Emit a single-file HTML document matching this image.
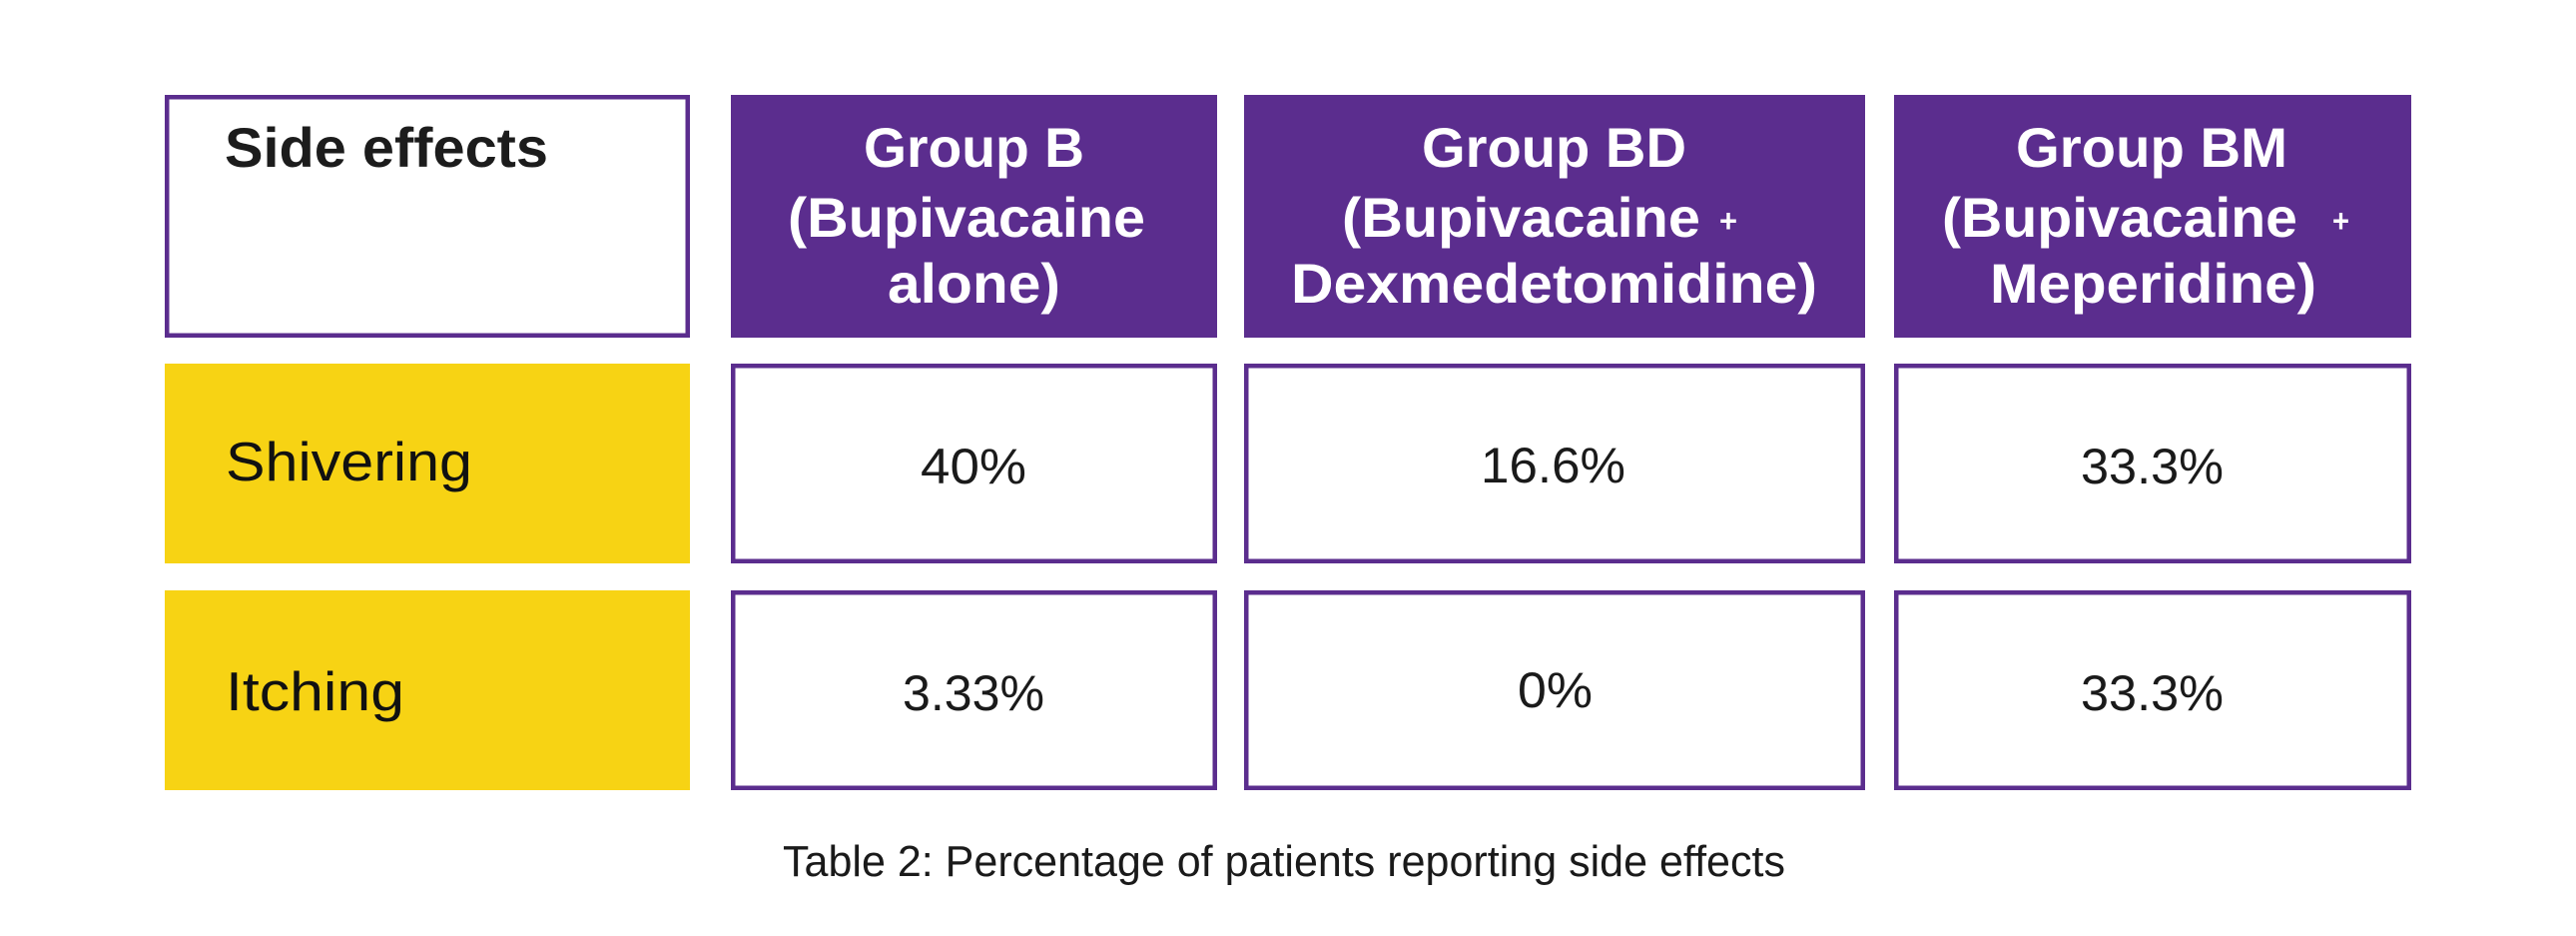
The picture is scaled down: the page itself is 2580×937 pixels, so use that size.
<!DOCTYPE html>
<html>
<head>
<meta charset="utf-8">
<style>
  html, body { margin: 0; padding: 0; background: #ffffff; }
  body { width: 2580px; height: 937px; overflow: hidden; }
  svg { display: block; }
  .hd { font-family: "Liberation Sans", sans-serif; font-weight: bold; font-size: 56px; fill: #ffffff; }
  .pl { font-family: "Liberation Sans", sans-serif; font-weight: bold; font-size: 32px; fill: #ffffff; }
  .val { font-family: "Liberation Sans", sans-serif; font-size: 50px; fill: #1a1a1a; }
  .lab { font-family: "Liberation Sans", sans-serif; font-size: 55px; fill: #111111; }
  .cap { font-family: "Liberation Sans", sans-serif; font-size: 44px; fill: #1a1a1a; }
</style>
</head>
<body>
<svg width="2580" height="937" viewBox="0 0 2580 937" xmlns="http://www.w3.org/2000/svg">
  <rect x="0" y="0" width="2580" height="937" fill="#ffffff"/>

  <!-- Header row -->
  <rect x="167.25" y="97.25" width="521.5" height="238.5" fill="#ffffff" stroke="#5b2d8e" stroke-width="4.5"/>
  <text x="225" y="167" class="hd" style="fill:#1c1c1c" textLength="324" lengthAdjust="spacingAndGlyphs">Side effects</text>

  <rect x="732" y="95" width="487" height="243" fill="#5b2d8e"/>
  <rect x="1246" y="95" width="622" height="243" fill="#5b2d8e"/>
  <rect x="1897" y="95" width="518" height="243" fill="#5b2d8e"/>

  <!-- Group B -->
  <text x="865" y="167" class="hd" textLength="221" lengthAdjust="spacingAndGlyphs">Group B</text>
  <text x="789" y="237" class="hd" textLength="358" lengthAdjust="spacingAndGlyphs">(Bupivacaine</text>
  <text x="889" y="303" class="hd" textLength="173" lengthAdjust="spacingAndGlyphs">alone)</text>

  <!-- Group BD -->
  <text x="1424" y="167" class="hd" textLength="265" lengthAdjust="spacingAndGlyphs">Group BD</text>
  <text x="1344" y="237" class="hd" textLength="359" lengthAdjust="spacingAndGlyphs">(Bupivacaine</text>
  <text x="1722" y="232" class="pl" textLength="18" lengthAdjust="spacingAndGlyphs">+</text>
  <text x="1293" y="303" class="hd" textLength="527" lengthAdjust="spacingAndGlyphs">Dexmedetomidine)</text>

  <!-- Group BM -->
  <text x="2019" y="167" class="hd" textLength="272" lengthAdjust="spacingAndGlyphs">Group BM</text>
  <text x="1945" y="237" class="hd" textLength="356" lengthAdjust="spacingAndGlyphs">(Bupivacaine</text>
  <text x="2336" y="232" class="pl" textLength="17" lengthAdjust="spacingAndGlyphs">+</text>
  <text x="1993" y="303" class="hd" textLength="327" lengthAdjust="spacingAndGlyphs">Meperidine)</text>

  <!-- Row 1 -->
  <rect x="165" y="364" width="526" height="200" fill="#f7d314"/>
  <text x="226" y="481" class="lab" textLength="247" lengthAdjust="spacingAndGlyphs">Shivering</text>

  <rect x="734.25" y="366.25" width="482.5" height="195.5" fill="#ffffff" stroke="#5b2d8e" stroke-width="4.5"/>
  <rect x="1248.25" y="366.25" width="617.5" height="195.5" fill="#ffffff" stroke="#5b2d8e" stroke-width="4.5"/>
  <rect x="1899.25" y="366.25" width="513.5" height="195.5" fill="#ffffff" stroke="#5b2d8e" stroke-width="4.5"/>

  <text x="922" y="484" class="val" textLength="106" lengthAdjust="spacingAndGlyphs">40%</text>
  <text x="1483" y="483" class="val" textLength="145" lengthAdjust="spacingAndGlyphs">16.6%</text>
  <text x="2084" y="484" class="val" textLength="143" lengthAdjust="spacingAndGlyphs">33.3%</text>

  <!-- Row 2 -->
  <rect x="165" y="591" width="526" height="200" fill="#f7d314"/>
  <text x="226" y="711" class="lab" textLength="179" lengthAdjust="spacingAndGlyphs">Itching</text>

  <rect x="734.25" y="593.25" width="482.5" height="195.5" fill="#ffffff" stroke="#5b2d8e" stroke-width="4.5"/>
  <rect x="1248.25" y="593.25" width="617.5" height="195.5" fill="#ffffff" stroke="#5b2d8e" stroke-width="4.5"/>
  <rect x="1899.25" y="593.25" width="513.5" height="195.5" fill="#ffffff" stroke="#5b2d8e" stroke-width="4.5"/>

  <text x="904" y="711" class="val" textLength="142" lengthAdjust="spacingAndGlyphs">3.33%</text>
  <text x="1520" y="708" class="val" textLength="75" lengthAdjust="spacingAndGlyphs">0%</text>
  <text x="2084" y="711" class="val" textLength="143" lengthAdjust="spacingAndGlyphs">33.3%</text>

  <!-- Caption -->
  <text x="784" y="877" class="cap" textLength="1004" lengthAdjust="spacingAndGlyphs">Table 2: Percentage of patients reporting side effects</text>
</svg>
</body>
</html>
